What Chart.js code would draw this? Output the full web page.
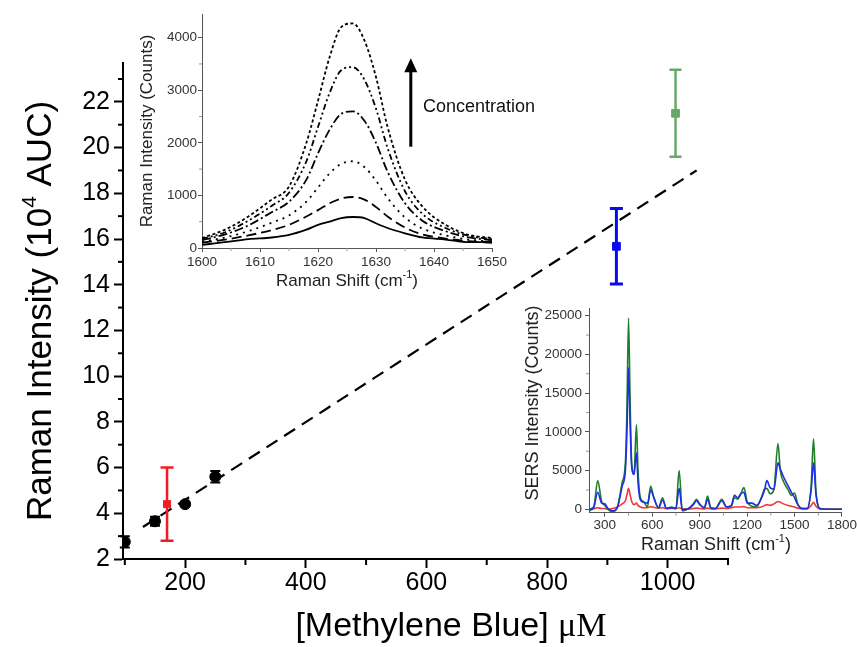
<!DOCTYPE html>
<html>
<head>
<meta charset="utf-8">
<title>Methylene Blue SERS calibration</title>
<script src="https://cdn.jsdelivr.net/npm/chart.js@4.4.1/dist/chart.umd.min.js"></script>
<style>
  html, body { margin: 0; padding: 0; background: #fff; overflow: hidden; }
  #wrap { position: relative; width: 857px; height: 647px; }
  #wrap canvas { position: absolute; }
</style>
</head>
<body>
<div id="wrap">
  <canvas id="mainChart" width="857" height="647" style="left:0;top:0"></canvas>
  <canvas id="peakChart" width="430" height="300" style="left:130px;top:0"></canvas>
  <canvas id="sersChart" width="348" height="260" style="left:509px;top:295px"></canvas>
</div>
<script>
// ---- main plot: AUC vs concentration ----
const mainXTicks = [200, 400, 600, 800, 1000];
const mainYTicks = [2, 4, 6, 8, 10, 12, 14, 16, 18, 20, 22];
const fitX = [130, 1048];
const fitY = [3.4, 19.0];
const blackX = [100, 150, 200, 250];
const blackY = [2.75, 3.65, 4.4, 5.6];
const blackErr = [0.25, 0.2, 0.1, 0.25];
const redX = [170];
const redY = [4.4];
const redErr = [1.6];
const blueX = [915];
const blueY = [15.68];
const blueErr = [1.65];
const greenX = [1013];
const greenY = [21.5];
const greenErr = [1.9];

// ---- top inset: 1625 band for increasing concentration ----
const peakXTicks = [1600, 1610, 1620, 1630, 1640, 1650];
const peakYTicks = [0, 1000, 2000, 3000, 4000];
const peakX = [1600, 1604, 1608, 1612, 1615, 1618, 1620, 1622, 1624, 1626, 1628, 1630, 1632, 1635, 1638, 1642, 1646, 1650];
const peak1 = [60, 110, 170, 200, 250, 350, 440, 500, 570, 590, 570, 470, 380, 280, 200, 160, 110, 120];
const peak2 = [100, 160, 240, 340, 440, 600, 720, 850, 940, 970, 920, 780, 600, 390, 260, 180, 130, 100];
const peak3 = [120, 200, 320, 480, 620, 880, 1150, 1420, 1600, 1650, 1540, 1280, 950, 580, 370, 240, 160, 120];
const peak4 = [150, 260, 430, 680, 880, 1300, 1800, 2250, 2550, 2600, 2420, 2000, 1450, 850, 520, 320, 200, 150];
const peak5 = [170, 300, 520, 800, 1050, 1650, 2300, 2950, 3380, 3440, 3200, 2650, 1900, 1080, 650, 380, 230, 170];
const peak6 = [190, 350, 600, 920, 1170, 2000, 2800, 3630, 4200, 4270, 3950, 3250, 2300, 1300, 790, 440, 250, 190];

// ---- lower inset: full SERS spectra ----
const sersXTicks = [300, 600, 900, 1200, 1500, 1800];
const sersYTicks = [0, 5000, 10000, 15000, 20000, 25000];
const sersX = [200, 230, 255, 280, 300, 320, 350, 380, 410, 430,
  440, 450, 460, 470, 485, 500, 510, 525, 545, 570,
  590, 610, 640, 665, 690, 720, 750, 770, 790, 830,
  860, 880, 900, 930, 950, 970, 1000, 1040, 1070, 1100,
  1120, 1140, 1160, 1180, 1200, 1230, 1260, 1290, 1310, 1325,
  1345, 1370, 1395, 1410, 1430, 1460, 1480, 1500, 1520, 1550,
  1580, 1605, 1620, 1635, 1660, 1700, 1750, 1800];
const sersGreen = [-200, 200, 3700, 1000, 500, 0, -300, 300, 3500, 6000,
  13000, 24700, 14000, 6000, 4600, 10900, 5000, 1500, 1000, 300,
  3000, 1500, 200, 1500, 100, 300, 100, 5000, -200, 100,
  700, 1300, 700, 200, 1700, 200, 100, 1300, 300, 400,
  1500, 1300, 2000, 2800, 1000, 400, 300, 1500, 2600, 2700,
  2000, 2600, 8500, 5000, 3600, 2500, 1800, 2100, 700, 100,
  100, 3000, 9100, 2500, 100, 0, 0, 0];
const sersBlue = [0, 300, 2200, 800, 700, 100, -200, 300, 3000, 5000,
  10000, 18300, 11000, 5500, 4500, 7300, 3500, 1200, 900, 800,
  2500, 1500, 200, 1200, 100, 200, 100, 2700, -100, 100,
  600, 1100, 600, 200, 1300, 200, 100, 1100, 300, 500,
  1800, 1500, 2000, 2200, 800, 800, 500, 1400, 2500, 3700,
  2800, 2600, 6000, 5200, 4200, 3000, 2200, 1500, 600, 100,
  100, 2500, 6000, 2000, 100, 0, 0, 0];
const sersRed = [0, 50, 200, 100, 100, 0, 100, 300, 700, 1100,
  1900, 2700, 1900, 1000, 600, 800, 500, 300, 200, 200,
  350, 250, 150, 200, 100, 100, 100, 200, 50, 50,
  100, 150, 100, 50, 150, 50, 50, 150, 100, 200,
  300, 300, 300, 350, 200, 200, 200, 300, 500, 600,
  500, 700, 1000, 900, 700, 500, 400, 300, 150, 50,
  50, 500, 900, 400, 50, 0, 0, 0];

const SANS = '"Liberation Sans", Arial, sans-serif';
const SERIF = '"Liberation Serif", "Times New Roman", serif';

function pts(xs, ys) {
  return xs.map((x, i) => ({x: x, y: ys[i]}));
}

// fixed tick lists (Chart.js would otherwise stretch stepSize to fit min/max)
function useTicks(list) {
  return s => { s.ticks = list.map(v => ({value: v})); };
}

// vertical error bars with caps
const errorBars = {
  id: 'errorBars',
  afterDatasetsDraw(chart) {
    const ctx = chart.ctx, sx = chart.scales.x, sy = chart.scales.y;
    chart.data.datasets.forEach(ds => {
      if (!ds.errors) return;
      ctx.save();
      ctx.strokeStyle = ds.errorColor;
      ctx.lineWidth = ds.errorWidth;
      ds.data.forEach((p, i) => {
        const px = sx.getPixelForValue(p.x);
        const top = sy.getPixelForValue(p.y + ds.errors[i]);
        const bot = sy.getPixelForValue(p.y - ds.errors[i]);
        const c = ds.capWidth / 2;
        ctx.beginPath();
        ctx.moveTo(px, top); ctx.lineTo(px, bot);
        ctx.moveTo(px - c, top); ctx.lineTo(px + c, top);
        ctx.moveTo(px - c, bot); ctx.lineTo(px + c, bot);
        ctx.stroke();
      });
      ctx.restore();
    });
  }
};

// shorter ticks between the labelled ones
const minorTicks = {
  id: 'minorTicks',
  afterDraw(chart, args, opts) {
    const ctx = chart.ctx, area = chart.chartArea;
    ctx.save();
    ctx.strokeStyle = opts.color;
    ctx.lineWidth = opts.width;
    ['x', 'y'].forEach(id => {
      const sc = chart.scales[id], o = opts[id];
      if (!o) return;
      const majors = sc.ticks.map(t => t.value);
      for (let k = Math.ceil(sc.min / o.step); k * o.step <= sc.max + 1e-9; k++) {
        const v = k * o.step;
        if (majors.some(m => Math.abs(m - v) < 1e-6)) continue;
        const p = sc.getPixelForValue(v);
        ctx.beginPath();
        if (id === 'x') { ctx.moveTo(p, area.bottom); ctx.lineTo(p, area.bottom + o.len); }
        else { ctx.moveTo(area.left, p); ctx.lineTo(area.left - o.len, p); }
        ctx.stroke();
      }
    });
    ctx.restore();
  }
};

// axis titles made of several runs (superscripts, mixed fonts)
const richText = {
  id: 'richText',
  afterDraw(chart, args, opts) {
    const ctx = chart.ctx;
    (opts.items || []).forEach(item => {
      ctx.save();
      ctx.translate(item.x, item.y);
      ctx.rotate(item.rotate || 0);
      ctx.fillStyle = item.color;
      ctx.textBaseline = 'middle';
      ctx.textAlign = 'left';
      let total = 0;
      item.parts.forEach(p => { ctx.font = p.font; total += ctx.measureText(p.text).width; });
      let cx = -total / 2;
      item.parts.forEach(p => {
        ctx.font = p.font;
        ctx.fillText(p.text, cx, p.dy || 0);
        cx += ctx.measureText(p.text).width;
      });
      ctx.restore();
    });
  }
};

// arrow + "Concentration" label, placed in data units of the inset
const concArrow = {
  id: 'concArrow',
  afterDraw(chart, args, o) {
    const ctx = chart.ctx, sx = chart.scales.x, sy = chart.scales.y;
    const x = sx.getPixelForValue(o.x);
    const y0 = sy.getPixelForValue(o.from), y1 = sy.getPixelForValue(o.to);
    ctx.save();
    ctx.strokeStyle = '#000';
    ctx.fillStyle = '#000';
    ctx.lineWidth = 3;
    ctx.beginPath();
    ctx.moveTo(x, y0); ctx.lineTo(x, y1 + 10);
    ctx.stroke();
    ctx.beginPath();
    ctx.moveTo(x, y1); ctx.lineTo(x - 6.5, y1 + 14); ctx.lineTo(x + 6.5, y1 + 14);
    ctx.closePath();
    ctx.fill();
    ctx.font = '18px ' + SANS;
    ctx.fillStyle = '#111';
    ctx.textBaseline = 'middle';
    ctx.fillText(o.label, sx.getPixelForValue(o.textX), sy.getPixelForValue(o.textY));
    ctx.restore();
  }
};

function axisStyle(color, tickLen, width) {
  return {
    border: {display: true, color: color, width: width},
    grid: {display: true, drawOnChartArea: false, drawTicks: true, tickLength: tickLen, tickWidth: width, tickColor: color}
  };
}

function tickFont(size, color, pad) {
  return {autoSkip: false, maxRotation: 0, padding: pad, color: color,
    font: {family: SANS, size: size}, callback: v => String(v)};
}

// ---------- main chart ----------
new Chart(document.getElementById('mainChart'), {
  type: 'scatter',
  data: {
    datasets: [
      {data: pts(fitX, fitY), showLine: true, borderColor: '#000', borderWidth: 2.2, borderDash: [13, 8], pointRadius: 0, fill: false},
      {data: pts(blackX, blackY), pointStyle: 'circle', pointRadius: 5.5, backgroundColor: '#000', borderColor: '#000',
        errors: blackErr, errorColor: '#000', errorWidth: 2, capWidth: 10},
      {data: pts(redX, redY), pointStyle: 'rect', pointRadius: 5, backgroundColor: '#ee1c24', borderColor: '#ee1c24',
        errors: redErr, errorColor: '#ee1c24', errorWidth: 2.5, capWidth: 13},
      {data: pts(blueX, blueY), pointStyle: 'rect', pointRadius: 5.5, backgroundColor: '#0a0af0', borderColor: '#0a0af0',
        errors: blueErr, errorColor: '#0a0af0', errorWidth: 3, capWidth: 13},
      {data: pts(greenX, greenY), pointStyle: 'rect', pointRadius: 5.5, backgroundColor: '#68a868', borderColor: '#68a868',
        errors: greenErr, errorColor: '#68a868', errorWidth: 2.5, capWidth: 12}
    ]
  },
  options: {
    responsive: false,
    animation: false,
    layout: {padding: {left: 0, right: 129, top: 63, bottom: 0}},
    scales: {
      x: Object.assign({
        type: 'linear', min: 97, max: 1100,
        afterFit: s => { s.height = 88; },
        afterBuildTicks: useTicks(mainXTicks),
        ticks: tickFont(25, '#000', 0)
      }, axisStyle('#000', 9, 2)),
      y: Object.assign({
        type: 'linear', min: 2, max: 23.7,
        afterFit: s => { s.width = 123; },
        afterBuildTicks: useTicks(mainYTicks),
        ticks: tickFont(25, '#000', 4)
      }, axisStyle('#000', 9, 2))
    },
    plugins: {
      legend: {display: false},
      tooltip: {enabled: false},
      minorTicks: {color: '#000', width: 2, x: {step: 100, len: 6}, y: {step: 1, len: 5}},
      richText: {items: [
        {x: 41, y: 311, rotate: -Math.PI / 2, color: '#000', parts: [
          {text: 'Raman Intensity (10', font: '35px ' + SANS},
          {text: '4', font: '21px ' + SANS, dy: -11},
          {text: ' AUC)', font: '35px ' + SANS}
        ]},
        {x: 451, y: 627, color: '#000', parts: [
          {text: '[Methylene Blue] ', font: '34px ' + SANS},
          {text: '\u03BCM', font: '34px ' + SERIF}
        ]}
      ]}
    }
  },
  plugins: [errorBars, minorTicks, richText]
});

// ---------- inset: 1625 cm-1 band ----------
const peakStyle = (d, dash) => ({
  data: pts(peakX, d), borderColor: '#000', borderWidth: 1.8, borderDash: dash,
  pointRadius: 0, fill: false, cubicInterpolationMode: 'monotone'
});
new Chart(document.getElementById('peakChart'), {
  type: 'line',
  data: {
    datasets: [
      peakStyle(peak1, []),
      peakStyle(peak2, [10, 5]),
      peakStyle(peak3, [2, 5]),
      peakStyle(peak4, [9, 3, 2, 3]),
      peakStyle(peak5, [6, 3, 2, 3, 2, 3]),
      peakStyle(peak6, [3, 2.5])
    ]
  },
  options: {
    responsive: false,
    animation: false,
    layout: {padding: {left: 0, right: 68, top: 14, bottom: 0}},
    scales: {
      x: Object.assign({
        type: 'linear', min: 1600, max: 1650,
        afterFit: s => { s.height = 52; },
        afterBuildTicks: useTicks(peakXTicks),
        ticks: tickFont(13.5, '#333', 2)
      }, axisStyle('#555', 4, 1)),
      y: Object.assign({
        type: 'linear', min: 0, max: 4450,
        afterFit: s => { s.width = 72; },
        afterBuildTicks: useTicks(peakYTicks),
        ticks: tickFont(13.5, '#333', 1)
      }, axisStyle('#555', 4, 1))
    },
    plugins: {
      legend: {display: false},
      tooltip: {enabled: false},
      minorTicks: {color: '#999', width: 1, x: {step: 5, len: 3}, y: {step: 500, len: 3}},
      concArrow: {x: 1636, from: 1926, to: 3607, textX: 1638.1, textY: 2687, label: 'Concentration'},
      richText: {items: [
        {x: 17, y: 131, rotate: -Math.PI / 2, color: '#222', parts: [
          {text: 'Raman Intensity (Counts)', font: '17px ' + SANS}
        ]},
        {x: 217, y: 281, color: '#222', parts: [
          {text: 'Raman Shift (cm', font: '17px ' + SANS},
          {text: '-1', font: '11px ' + SANS, dy: -6},
          {text: ')', font: '17px ' + SANS}
        ]}
      ]}
    }
  },
  plugins: [minorTicks, concArrow, richText]
});

// ---------- inset: full SERS spectra ----------
const sersStyle = (d, color) => ({
  data: pts(sersX, d), borderColor: color, borderWidth: 1.6, pointRadius: 0,
  fill: false, cubicInterpolationMode: 'monotone'
});
new Chart(document.getElementById('sersChart'), {
  type: 'line',
  data: {
    datasets: [
      sersStyle(sersBlue, '#1f2fe0'),
      sersStyle(sersGreen, '#1f7f2a'),
      sersStyle(sersRed, '#f0383a')
    ]
  },
  options: {
    responsive: false,
    animation: false,
    layout: {padding: {left: 0, right: 15, top: 13, bottom: 0}},
    scales: {
      x: Object.assign({
        type: 'linear', min: 200, max: 1800,
        afterFit: s => { s.height = 42.3; },
        afterBuildTicks: useTicks(sersXTicks),
        ticks: tickFont(13.5, '#333', 0)
      }, axisStyle('#555', 4, 1)),
      y: Object.assign({
        type: 'linear', min: -440, max: 26000,
        afterFit: s => { s.width = 80; },
        afterBuildTicks: useTicks(sersYTicks),
        ticks: tickFont(13.5, '#333', 3)
      }, axisStyle('#555', 4, 1))
    },
    plugins: {
      legend: {display: false},
      tooltip: {enabled: false},
      minorTicks: {color: '#999', width: 1, x: {step: 150, len: 3}, y: {step: 2500, len: 3}},
      richText: {items: [
        {x: 24, y: 108, rotate: -Math.PI / 2, color: '#222', parts: [
          {text: 'SERS Intensity (Counts)', font: '18px ' + SANS}
        ]},
        {x: 207, y: 250, color: '#222', parts: [
          {text: 'Raman Shift (cm', font: '18px ' + SANS},
          {text: '-1', font: '11px ' + SANS, dy: -6},
          {text: ')', font: '18px ' + SANS}
        ]}
      ]}
    }
  },
  plugins: [minorTicks, richText]
});
</script>
</body>
</html>
